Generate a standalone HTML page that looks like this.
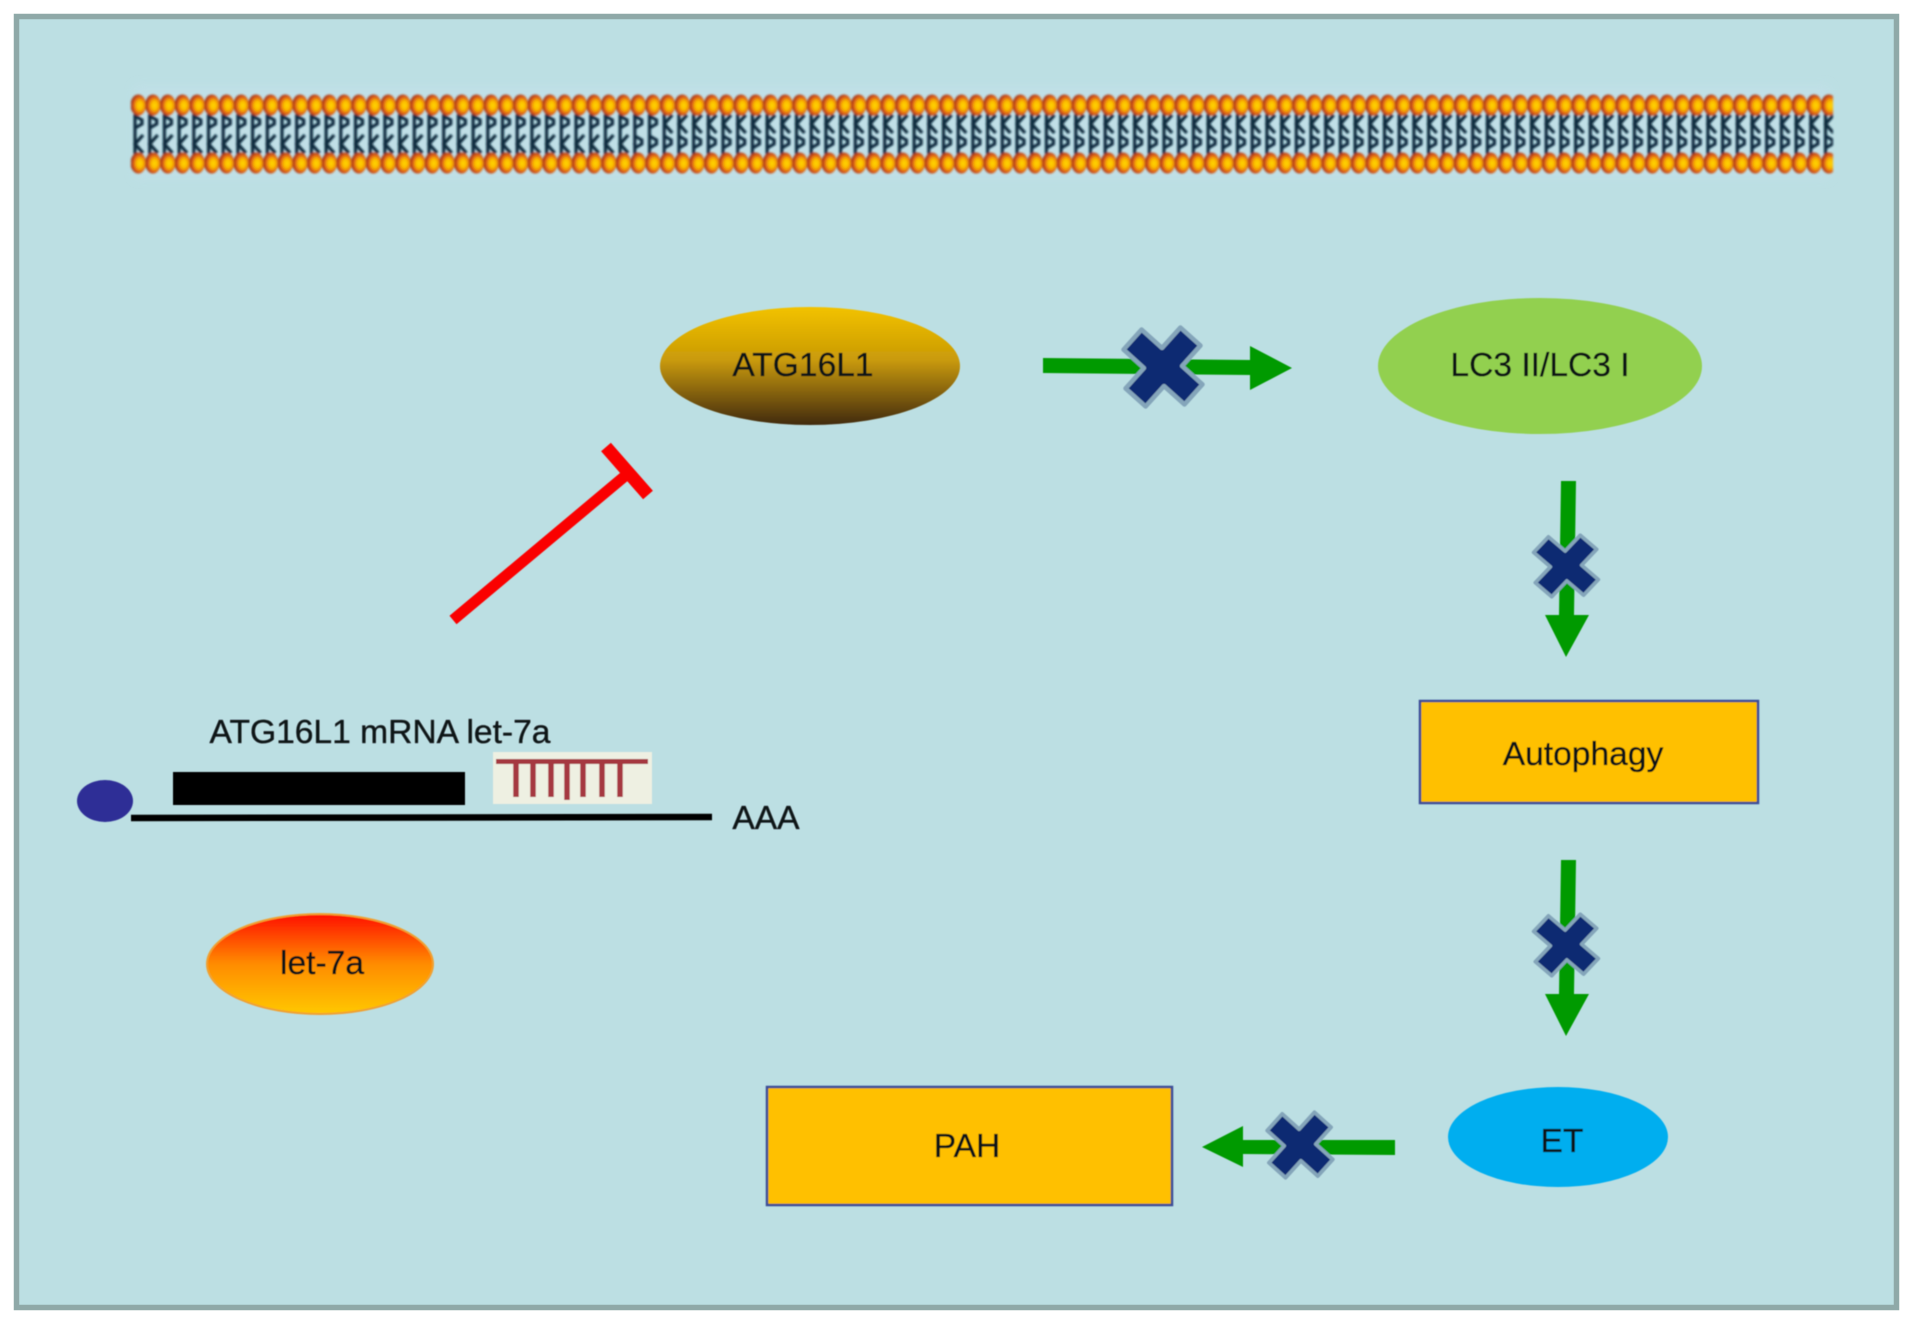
<!DOCTYPE html>
<html>
<head>
<meta charset="utf-8">
<style>
html,body{margin:0;padding:0;background:#fff;width:1913px;height:1324px;overflow:hidden}
svg{display:block}
text{font-family:"Liberation Sans",sans-serif;fill:#0e1214;stroke:#0e1214;stroke-width:.35px;text-anchor:middle}
</style>
</head>
<body>
<svg width="1913" height="1324" viewBox="0 0 1913 1324" xmlns="http://www.w3.org/2000/svg">
<defs>
<linearGradient id="gold" x1="0" y1="0" x2="0" y2="1">
<stop offset="0" stop-color="#f2c200"/><stop offset=".45" stop-color="#c99a08"/><stop offset="1" stop-color="#412a08"/>
</linearGradient>
<linearGradient id="red" x1="0" y1="0" x2="0" y2="1">
<stop offset="0" stop-color="#ff0f00"/><stop offset=".5" stop-color="#ff8c00"/><stop offset="1" stop-color="#ffc800"/>
</linearGradient>
<radialGradient id="head" cx=".6" cy=".52" r=".6">
<stop offset="0" stop-color="#ffd800"/><stop offset=".36" stop-color="#fbb800"/><stop offset=".68" stop-color="#dc5a18"/><stop offset="1" stop-color="#8a2418"/>
</radialGradient>
<pattern id="headsT" x="131" y="94" width="14.7" height="22" patternUnits="userSpaceOnUse">
<ellipse cx="7.3" cy="11" rx="7.800" ry="10.500" fill="url(#head)"/>
</pattern>
<pattern id="headsB" x="131" y="152" width="14.7" height="22" patternUnits="userSpaceOnUse">
<ellipse cx="7.3" cy="11" rx="7.800" ry="10.500" fill="url(#head)"/>
</pattern>
<pattern id="tailP" x="131" y="114" width="14.7" height="20" patternUnits="userSpaceOnUse">
<path d="M4 0V20M4 2L11 6 11 10 4 14" fill="none" stroke="#0e2c40" stroke-width="3.200"/>
</pattern>
<pattern id="tailPb" x="131" y="134" width="14.7" height="20" patternUnits="userSpaceOnUse">
<path d="M4 0V20M4 2L11 6 11 10 4 14" fill="none" stroke="#0e2c40" stroke-width="3.200"/>
</pattern>
<pattern id="tailK" x="131" y="114" width="14.7" height="20" patternUnits="userSpaceOnUse">
<path d="M4 0V20M12 1L4 10 12 19" fill="none" stroke="#0c2a3e" stroke-width="3.200"/>
</pattern>
<pattern id="tailKb" x="131" y="134" width="14.7" height="20" patternUnits="userSpaceOnUse">
<path d="M4 0V20M12 1L4 10 12 19" fill="none" stroke="#0c2a3e" stroke-width="3.200"/>
</pattern>
<filter id="soft" x="-5%" y="-20%" width="110%" height="140%"><feGaussianBlur stdDeviation="1"/></filter>
<filter id="halo" x="-5%" y="-100%" width="110%" height="300%"><feGaussianBlur stdDeviation="5"/></filter>
<filter id="soft2" x="-10%" y="-10%" width="120%" height="120%"><feGaussianBlur stdDeviation="0.6"/></filter>
<g id="x">
<polygon points="-13.500,-41 13.500,-41 13.500,-13.500 41,-13.500 41,13.500 13.500,13.500 13.500,41 -13.500,41 -13.500,13.500 -41,13.500 -41,-13.500 -13.500,-13.500" transform="rotate(42)" fill="#0b2a72" stroke="#84a5ba" stroke-width="4.500" stroke-linejoin="round"/>
</g>
</defs>

<rect x="16.500" y="16.500" width="1880" height="1291" fill="#bcdfe3" stroke="#8fa9a8" stroke-width="5.500"/>

<!-- membrane -->
<rect x="135" y="86" width="1694" height="92" fill="#c4e0ea" opacity=".6" filter="url(#halo)"/>
<g filter="url(#soft)">
<rect x="131" y="114" width="534" height="20" fill="url(#tailP)"/>
<rect x="665" y="114" width="1168" height="20" fill="url(#tailK)"/>
<rect x="131" y="134" width="503" height="20" fill="url(#tailKb)"/>
<rect x="634" y="134" width="1199" height="20" fill="url(#tailPb)"/>
<rect x="131" y="94" width="1702" height="22" fill="url(#headsT)"/>
<rect x="131" y="152" width="1702" height="22" fill="url(#headsB)"/>
</g>

<g filter="url(#soft2)">
<!-- red inhibition -->
<g stroke="#fa0505" fill="none">
<path d="M453 620L625 476" stroke-width="11"/>
<path d="M606 447L648 495" stroke-width="13"/>
</g>

<!-- nodes -->
<ellipse cx="810" cy="366" rx="150" ry="59" fill="url(#gold)"/>
<ellipse cx="1540" cy="366" rx="162" ry="68" fill="#92d050"/>
<rect x="1420" y="701" width="338" height="102" fill="#ffc000" stroke="#3c4d96" stroke-width="2.500"/>
<ellipse cx="1558" cy="1137" rx="110" ry="50" fill="#00aeef"/>
<rect x="767" y="1087" width="405" height="118" fill="#ffc000" stroke="#3c4d96" stroke-width="2.500"/>
<ellipse cx="320" cy="964" rx="113" ry="50" fill="url(#red)" stroke="#f0a030" stroke-width="2"/>
<ellipse cx="105" cy="801" rx="28" ry="21" fill="#2f2f96"/>

<!-- mRNA -->
<rect x="173" y="772" width="292" height="33" fill="#000"/>
<path d="M131 818L712 817" stroke="#000" stroke-width="6.500"/>
<rect x="493" y="752" width="159" height="52" fill="#eef0e2"/>
<g stroke="#a5373f" fill="none">
<path d="M496 761.500H648" stroke-width="5"/>
<path d="M516 761V797M533 761V797M551 761V797M567 761V800M583 761V797M602 761V797M620 761V797" stroke-width="5.500"/>
</g>

<!-- green arrows -->
<g fill="#009a05">
<polygon points="1043,358 1250,360 1250,346 1292,368 1250,390 1250,375 1043,373"/>
<polygon points="1561,481 1576,481 1574,615 1589,615 1566,657 1545,615 1559,615"/>
<polygon points="1561,860 1576,860 1574,994 1589,994 1566,1036 1545,994 1559,994"/>
<polygon points="1395,1140 1395,1155 1243,1154 1243,1167 1202,1147 1243,1126 1243,1140"/>
</g>
<use href="#x" transform="translate(1163,367)"/>
<use href="#x" transform="translate(1566,566) scale(.82,.78)"/>
<use href="#x" transform="translate(1566,945) scale(.82,.78)"/>
<use href="#x" transform="translate(1300,1145) scale(.83,.83)"/>

<!-- labels -->
<text x="803" y="376" font-size="33.600">ATG16L1</text>
<text x="1540" y="376" font-size="33.600">LC3 II/LC3 I</text>
<text x="1583" y="765" font-size="33.600">Autophagy</text>
<text x="1562" y="1152" font-size="33.600">ET</text>
<text x="967" y="1157" font-size="33.600">PAH</text>
<text x="322" y="974" font-size="33.600">let-7a</text>
<text x="380" y="743" font-size="33.600">ATG16L1 mRNA let-7a</text>
<text x="766" y="829" font-size="33.600">AAA</text>
</g>
</svg>
</body>
</html>
